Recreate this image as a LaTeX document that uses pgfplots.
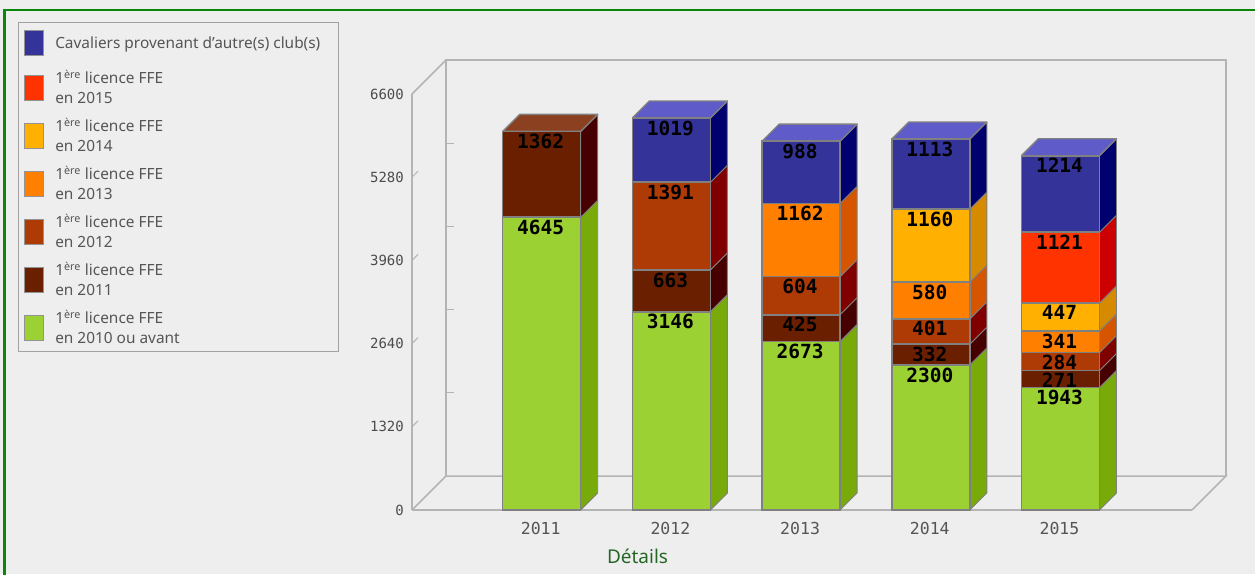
\documentclass[border=0pt]{standalone}
\usepackage{pgfplots}
\pgfplotsset{compat=1.18}
\usepackage{fontspec}
\setmainfont{Noto Sans}
\newfontfamily\monof{DejaVu Sans Mono}
\definecolor{bgc}{HTML}{EEEEEE}
\definecolor{framec}{HTML}{0A870A}
\definecolor{wallc}{HTML}{B4B4B4}
\definecolor{edgec}{HTML}{808080}
\definecolor{txtc}{HTML}{555555}
\definecolor{fGreen}{HTML}{9BD133}\definecolor{sGreen}{HTML}{78AA0A}
\definecolor{fB11}{HTML}{6A2000}\definecolor{sB11}{HTML}{460000}\definecolor{tB11}{HTML}{8B4120}
\definecolor{fB12}{HTML}{AE3A05}\definecolor{sB12}{HTML}{800000}
\definecolor{fO13}{HTML}{FF8000}\definecolor{sO13}{HTML}{D55500}
\definecolor{fY14}{HTML}{FFB000}\definecolor{sY14}{HTML}{D58A00}
\definecolor{fR15}{HTML}{FF3300}\definecolor{sR15}{HTML}{CC0000}
\definecolor{fBlue}{HTML}{333399}\definecolor{sBlue}{HTML}{00006E}\definecolor{tBlue}{HTML}{5F5BC8}
% side face of a segment: category position, lower and upper stacked values, colour
\newcommand{\side}[4]{%
  \pgfmathsetmacro\xa{#1+0.3007}\pgfmathsetmacro\xb{#1+0.4318}%
  \pgfmathsetmacro\yla{#2+269.7}\pgfmathsetmacro\yha{#3+269.7}%
  \addplot[fill=#4,draw=edgec,line width=0.9pt,line join=round] coordinates {(\xa,#2)(\xb,\yla)(\xb,\yha)(\xa,#3)(\xa,#2)};}
% top face of a bar: category position, total, colour
\newcommand{\topf}[3]{%
  \pgfmathsetmacro\xa{#1-0.3007}\pgfmathsetmacro\xb{#1+0.3007}\pgfmathsetmacro\xc{#1+0.4318}\pgfmathsetmacro\xd{#1-0.1696}%
  \pgfmathsetmacro\yh{#2+269.7}%
  \addplot[fill=#3,draw=edgec,line width=1.4pt,line join=round] coordinates {(\xa,#2)(\xb,#2)(\xc,\yh)(\xd,\yh)(\xa,#2)};}
\pgfplotstableread{
x green b11 b12 o13 y14 r15 blue
0 4645 1362 0 0 0 0 0
1 3146 663 1391 0 0 0 1019
2 2673 425 604 1162 0 0 988
3 2300 332 401 580 1160 0 1113
4 1943 271 284 341 447 1121 1214
}\datatable
\pgfplotsset{
  common/.style={scale only axis,width=780pt,height=416pt,xmin=-1,xmax=5.014,ymin=0,ymax=6600,clip=false},
  wall/.style={draw=wallc,line width=1.5pt,no markers},
  seg/.style={fill=#1,draw=edgec,line width=1.6pt,
    legend image code/.code={\draw[fill=#1,draw=edgec!85!white,line width=1.5pt] (0pt,-12.5pt) rectangle (19pt,12.5pt);\path[draw=none,fill=none] (0pt,-12.5pt) rectangle (29pt,12.5pt);}},
  segtall/.style={fill=#1,draw=edgec,line width=1.6pt,
    legend image code/.code={\draw[fill=#1,draw=edgec!85!white,line width=1.5pt] (0pt,-12.5pt) rectangle (19pt,12.5pt);\path[draw=none,fill=none] (0pt,-16.5pt) rectangle (29pt,16.5pt);}},
}
\begin{document}
\begin{tikzpicture}[x=1pt,y=1pt]
\useasboundingbox (-412,-64) rectangle (843,510);
\fill[bgc] (-412,-64) rectangle (843,510);
\draw[framec,line width=2.8pt] (-407.5,-70) -- (-407.5,500) -- (850,500);
\begin{axis}[common,
  axis x line=bottom,axis y line=left,
  axis line style={draw=wallc,line width=1.5pt,-},
  major tick length=0pt,
  xtick={0,1,2,3,4},xticklabels={2011,2012,2013,2014,2015},
  ytick={0,1320,2640,3960,5280,6600},
  /pgf/number format/assume math mode=true,
  /pgf/number format/1000 sep={},
  yticklabel style={font=\fontsize{14}{14}\selectfont\monof,text=txtc!90!black,inner sep=0pt,anchor=east,xshift=-8pt},
  xticklabel style={font=\fontsize{16.5}{16.5}\selectfont\monof,text=txtc,inner sep=0pt,anchor=center,yshift=-18pt,xshift=-1pt},
  xlabel={Détails},
  xlabel style={at={(axis cs:0.739,0)},anchor=base,yshift=-53pt,font=\fontsize{19}{19}\selectfont,text=green!30!black!85!,inner sep=0pt},
]
% back wall and floor
\addplot[wall] coordinates {(-0.7378,539.4)(-0.7378,7139.4)(5.2762,7139.4)(5.2762,539.4)};
\addplot[wall] coordinates {(-1,0)(-0.7378,539.4)(5.2762,539.4)(5.014,0)};
\addplot[wall] coordinates {(-1,6600)(-0.7378,7139.4)};
% small ticks on the wall and on the left edge
\addplot[wall,line width=1pt] coordinates {(-0.7378,1859.4)(-0.6761,1859.4)};
\addplot[wall,line width=1pt] coordinates {(-0.7378,3179.4)(-0.6761,3179.4)};
\addplot[wall,line width=1pt] coordinates {(-0.7378,4499.4)(-0.6761,4499.4)};
\addplot[wall,line width=1pt] coordinates {(-0.7378,5819.4)(-0.6761,5819.4)};
\addplot[wall,line width=1pt] coordinates {(-1,1320)(-0.9537,1415)};
\addplot[wall,line width=1pt] coordinates {(-1,2640)(-0.9537,2735)};
\addplot[wall,line width=1pt] coordinates {(-1,3960)(-0.9537,4055)};
\addplot[wall,line width=1pt] coordinates {(-1,5280)(-0.9537,5375)};
% side faces, stacked bounds
\side{0}{0}{4645}{sGreen}\side{0}{4645}{6007}{sB11}
\side{1}{0}{3146}{sGreen}\side{1}{3146}{3809}{sB11}\side{1}{3809}{5200}{sB12}\side{1}{5200}{6219}{sBlue}
\side{2}{0}{2673}{sGreen}\side{2}{2673}{3098}{sB11}\side{2}{3098}{3702}{sB12}\side{2}{3702}{4864}{sO13}\side{2}{4864}{5852}{sBlue}
\side{3}{0}{2300}{sGreen}\side{3}{2300}{2632}{sB11}\side{3}{2632}{3033}{sB12}\side{3}{3033}{3613}{sO13}\side{3}{3613}{4773}{sY14}\side{3}{4773}{5886}{sBlue}
\side{4}{0}{1943}{sGreen}\side{4}{1943}{2214}{sB11}\side{4}{2214}{2498}{sB12}\side{4}{2498}{2839}{sO13}\side{4}{2839}{3286}{sY14}\side{4}{3286}{4407}{sR15}\side{4}{4407}{5621}{sBlue}
% top faces
\topf{0}{6007}{tB11}\topf{1}{6219}{tBlue}\topf{2}{5852}{tBlue}\topf{3}{5886}{tBlue}\topf{4}{5621}{tBlue}
\end{axis}
\begin{axis}[common,
  axis lines=none,
  ybar stacked,bar width=78pt,
  reverse legend,legend cell align=left,
  legend style={at={(-0.5051,1.1731)},anchor=north west,draw=wallc!90!black,line width=1pt,fill=none,
    font=\fontsize{15.4}{20}\selectfont\color{txtc},row sep=9pt,inner xsep=5pt,inner ysep=4pt,
    cells={align=left}},
  visualization depends on={rawy*0.031515-10 \as \lblshift},
  nodes near coords={\pgfmathfloatifflags{\pgfplotspointmeta}{0}{}{\pgfmathprintnumber[1000 sep={},assume math mode=true]{\pgfplotspointmeta}}},
  point meta=rawy,
  every node near coord/.append style={anchor=center,yshift=\lblshift pt,xshift=-1pt,text=black,inner sep=0pt,
    font=\fontsize{19.5}{19.5}\selectfont\monof\bfseries},
]
\addplot[seg=fGreen] table[x=x,y=green]{\datatable};
\addplot[seg=fB11] table[x=x,y=b11]{\datatable};
\addplot[seg=fB12] table[x=x,y=b12]{\datatable};
\addplot[seg=fO13] table[x=x,y=o13]{\datatable};
\addplot[seg=fY14] table[x=x,y=y14]{\datatable};
\addplot[seg=fR15] table[x=x,y=r15]{\datatable};
\addplot[segtall=fBlue] table[x=x,y=blue]{\datatable};
\legend{{1\textsuperscript{ère} licence FFE\\en 2010 ou avant},
  {1\textsuperscript{ère} licence FFE\\en 2011},
  {1\textsuperscript{ère} licence FFE\\en 2012},
  {1\textsuperscript{ère} licence FFE\\en 2013},
  {1\textsuperscript{ère} licence FFE\\en 2014},
  {1\textsuperscript{ère} licence FFE\\en 2015},
  {Cavaliers provenant d'autre(s) club(s)\hspace*{11pt}}}
\end{axis}
\end{tikzpicture}
\end{document}
